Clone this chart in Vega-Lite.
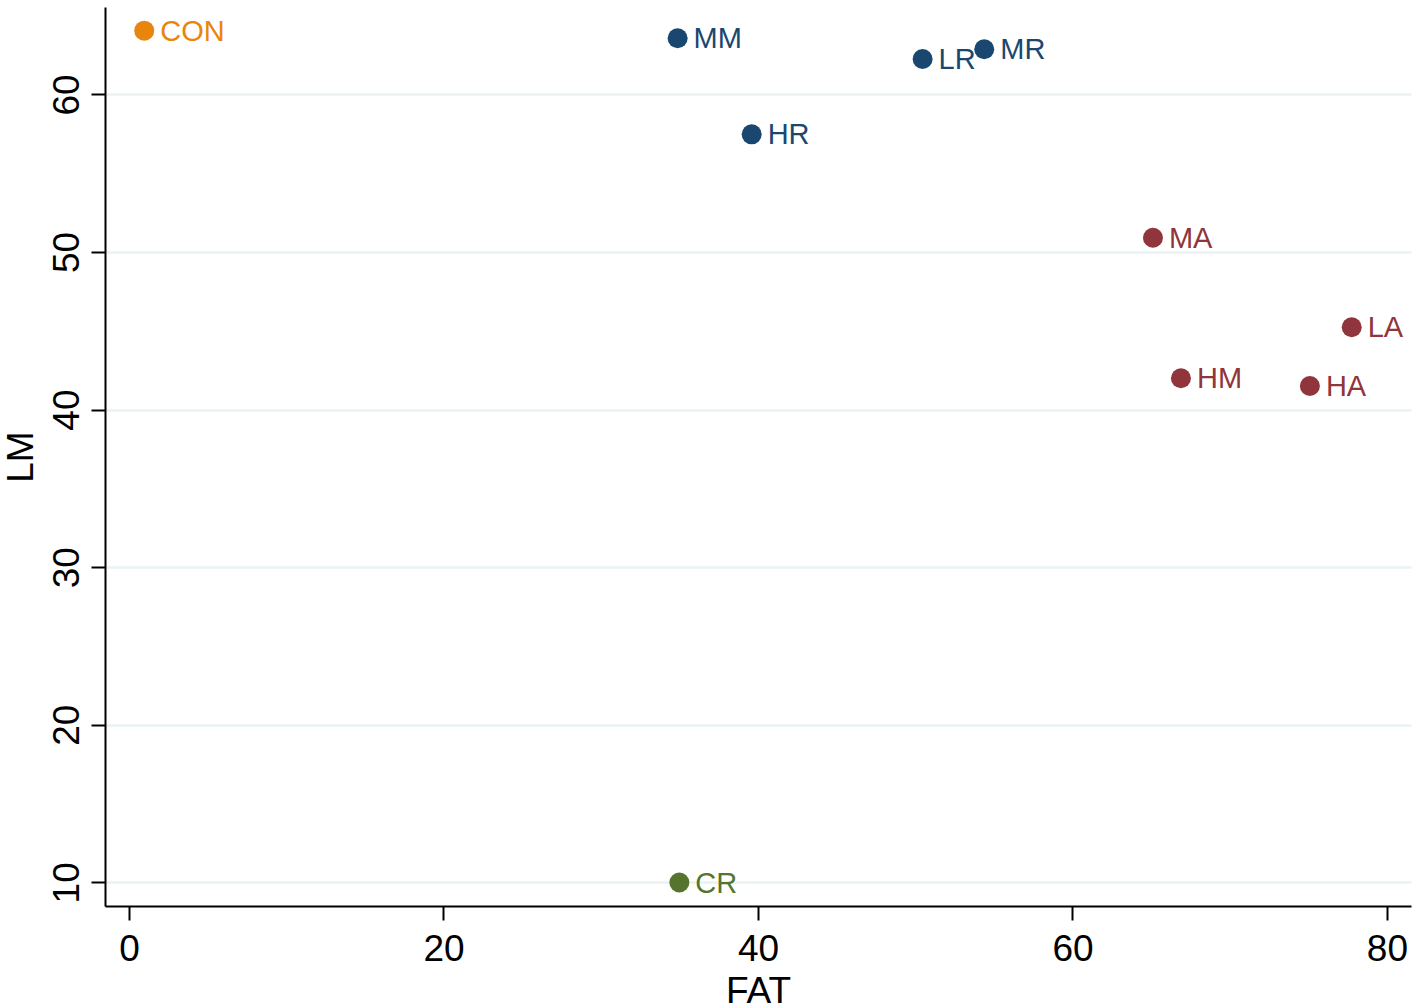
{
  "$schema": "https://vega.github.io/schema/vega-lite/v6.json",
  "description": "Scatter of LM against FAT with labelled groups.",
  "width": 1306,
  "height": 899,
  "autosize": "none",
  "padding": {"left": 105, "top": 7, "right": 7, "bottom": 101},
  "background": "white",
  "config": {
    "view": {"stroke": null},
    "font": "Liberation Sans",
    "axis": {
      "domainColor": "black",
      "domainWidth": 2,
      "tickColor": "black",
      "tickWidth": 2,
      "tickSize": 14,
      "labelColor": "black",
      "labelFontSize": 37,
      "titleColor": "black",
      "titleFontSize": 37,
      "titleFontWeight": "normal",
      "gridColor": "#eaf2f3",
      "gridWidth": 2.5
    }
  },
  "data": {
    "values": [
      {"name": "CON", "group": "control", "FAT": 0.97, "LM": 64.05},
      {"name": "MM", "group": "R", "FAT": 34.89, "LM": 63.57},
      {"name": "LR", "group": "R", "FAT": 50.47, "LM": 62.25},
      {"name": "MR", "group": "R", "FAT": 54.39, "LM": 62.87},
      {"name": "HR", "group": "R", "FAT": 39.6, "LM": 57.47},
      {"name": "MA", "group": "A", "FAT": 65.12, "LM": 50.91},
      {"name": "LA", "group": "A", "FAT": 77.76, "LM": 45.23},
      {"name": "HM", "group": "A", "FAT": 66.9, "LM": 41.99},
      {"name": "HA", "group": "A", "FAT": 75.1, "LM": 41.5},
      {"name": "CR", "group": "CR", "FAT": 35.0, "LM": 9.99}
    ]
  },
  "encoding": {
    "x": {
      "field": "FAT",
      "type": "quantitative",
      "title": "FAT",
      "scale": {"domain": [-1.526, 81.53], "nice": false, "zero": false},
      "axis": {
        "values": [0, 20, 40, 60, 80],
        "grid": false,
        "labelPadding": 11,
        "titleBaseline": "alphabetic",
        "titleY": 96
      }
    },
    "y": {
      "field": "LM",
      "type": "quantitative",
      "title": "LM",
      "scale": {"domain": [8.5, 65.55], "nice": false, "zero": false},
      "axis": {
        "values": [10, 20, 30, 40, 50, 60],
        "grid": true,
        "labelAngle": -90,
        "labelAlign": "center",
        "labelBaseline": "alphabetic",
        "labelPadding": 13,
        "titleAngle": -90,
        "titleBaseline": "alphabetic",
        "titleX": -73
      }
    },
    "color": {
      "field": "group",
      "type": "nominal",
      "scale": {
        "domain": ["control", "R", "A", "CR"],
        "range": ["#e8850c", "#1a476f", "#90353b", "#55752f"]
      },
      "legend": null
    }
  },
  "layer": [
    {
      "mark": {"type": "circle", "size": 400, "opacity": 1}
    },
    {
      "mark": {
        "type": "text",
        "align": "left",
        "baseline": "middle",
        "dx": 16,
        "dy": 1,
        "fontSize": 29
      },
      "encoding": {"text": {"field": "name"}}
    }
  ]
}
